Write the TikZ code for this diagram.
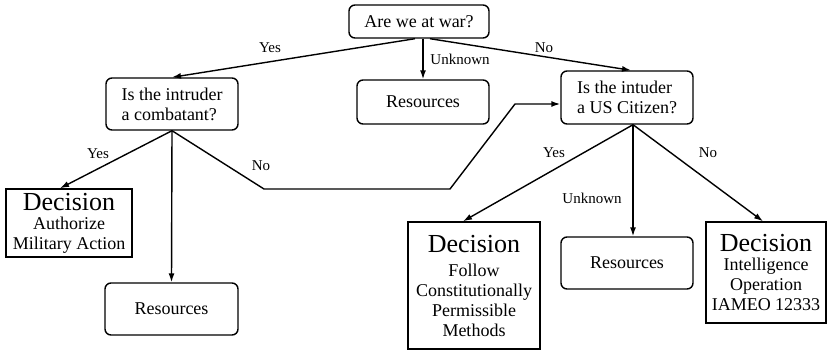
\documentclass[tikz,border=0pt]{standalone}
\usepackage{fontspec}
\setmainfont{Liberation Serif}
\usetikzlibrary{arrows.meta}
\begin{document}
\begin{tikzpicture}[x=1pt,y=-1pt,
  every path/.style={line width=1.4pt},
  rbox/.style={draw,rounded corners=6pt,inner sep=0pt,font=\fontsize{18}{20}\selectfont},
  dbox/.style={draw,inner sep=0pt,align=center,font=\fontsize{18}{20}\selectfont},
  lab/.style={inner sep=0pt,anchor=base,font=\fontsize{15}{17}\selectfont},
  arr/.style={-{Latex[length=9pt,width=6pt]}},
  big/.style={}]
\useasboundingbox (0,0) rectangle (827,351);
\newcommand{\decw}{\fontsize{26}{28}\selectfont Decision}
% nodes
\node[rbox,minimum width=140pt,minimum height=33pt] (war) at (419,21.5) {Are we at war?};
\node[rbox,minimum width=132pt,minimum height=44pt] (res1) at (423,102) {Resources};
\node[rbox,minimum width=132pt,minimum height=52pt,align=left] (comb) at (172,104) {Is the intruder\\a combatant?};
\node[rbox,minimum width=132pt,minimum height=53pt,align=left] (cit) at (627,97.5) {Is the intuder\\a US Citizen?};
\node[dbox,minimum width=126pt,minimum height=68pt] (dec1) at (69,223) {{\decw}\\[-1pt]Authorize\\Military Action};
\node[rbox,minimum width=133pt,minimum height=52pt] (res2) at (171.5,309) {Resources};
\node[dbox,minimum width=132pt,minimum height=127pt] (dec2) at (474,285.5) {{\decw}\\[4pt]Follow\\Constitutionally\\Permissible\\Methods};
\node[rbox,minimum width=132pt,minimum height=52pt] (res3) at (627,263) {Resources};
\node[dbox,minimum width=120pt,minimum height=101pt] (dec3) at (766,272.5) {{\decw}\\[-1pt]Intelligence\\Operation\\IAMEO 12333};
% connector points
\coordinate (warS1) at ([xshift=-4pt]war.south);
\coordinate (warS2) at ([xshift=11pt]war.south);
\coordinate (citS) at ([xshift=6pt]cit.south);
\coordinate (b1) at (264,189);
\coordinate (b2) at (450,189);
\coordinate (b3) at (515,104);
% connectors
\draw[arr] (warS1) -- (comb.north);
\draw[arr] (res1.north |- war.south) -- (res1.north);
\draw[arr] (warS2) -- ([xshift=4pt]cit.north);
\draw[arr] (comb.south) -- ([xshift=-9pt]dec1.north);
\draw[arr] (comb.south) -- (res2.north);
\draw[arr] (comb.south) -- (b1) -- (b2) -- (b3) -- (b3 -| cit.west);
\draw[arr] (citS) -- ([xshift=-11pt]dec2.north);
\draw[arr] (citS) -- (citS |- res3.north);
\draw[arr] (citS) -- ([xshift=-3pt]dec3.north);
% labels
\node[lab] (l1) at (270,52) {Yes};
\node[lab] (l2) at (460,64) {Unknown};
\node[lab] (l3) at (544,52) {No};
\node[lab] (l4) at (98,158) {Yes};
\node[lab] (l5) at (261,170) {No};
\node[lab] (l6) at (554,157) {Yes};
\node[lab] (l7) at (592,203) {Unknown};
\node[lab] (l8) at (708,157) {No};
\end{tikzpicture}
\end{document}
